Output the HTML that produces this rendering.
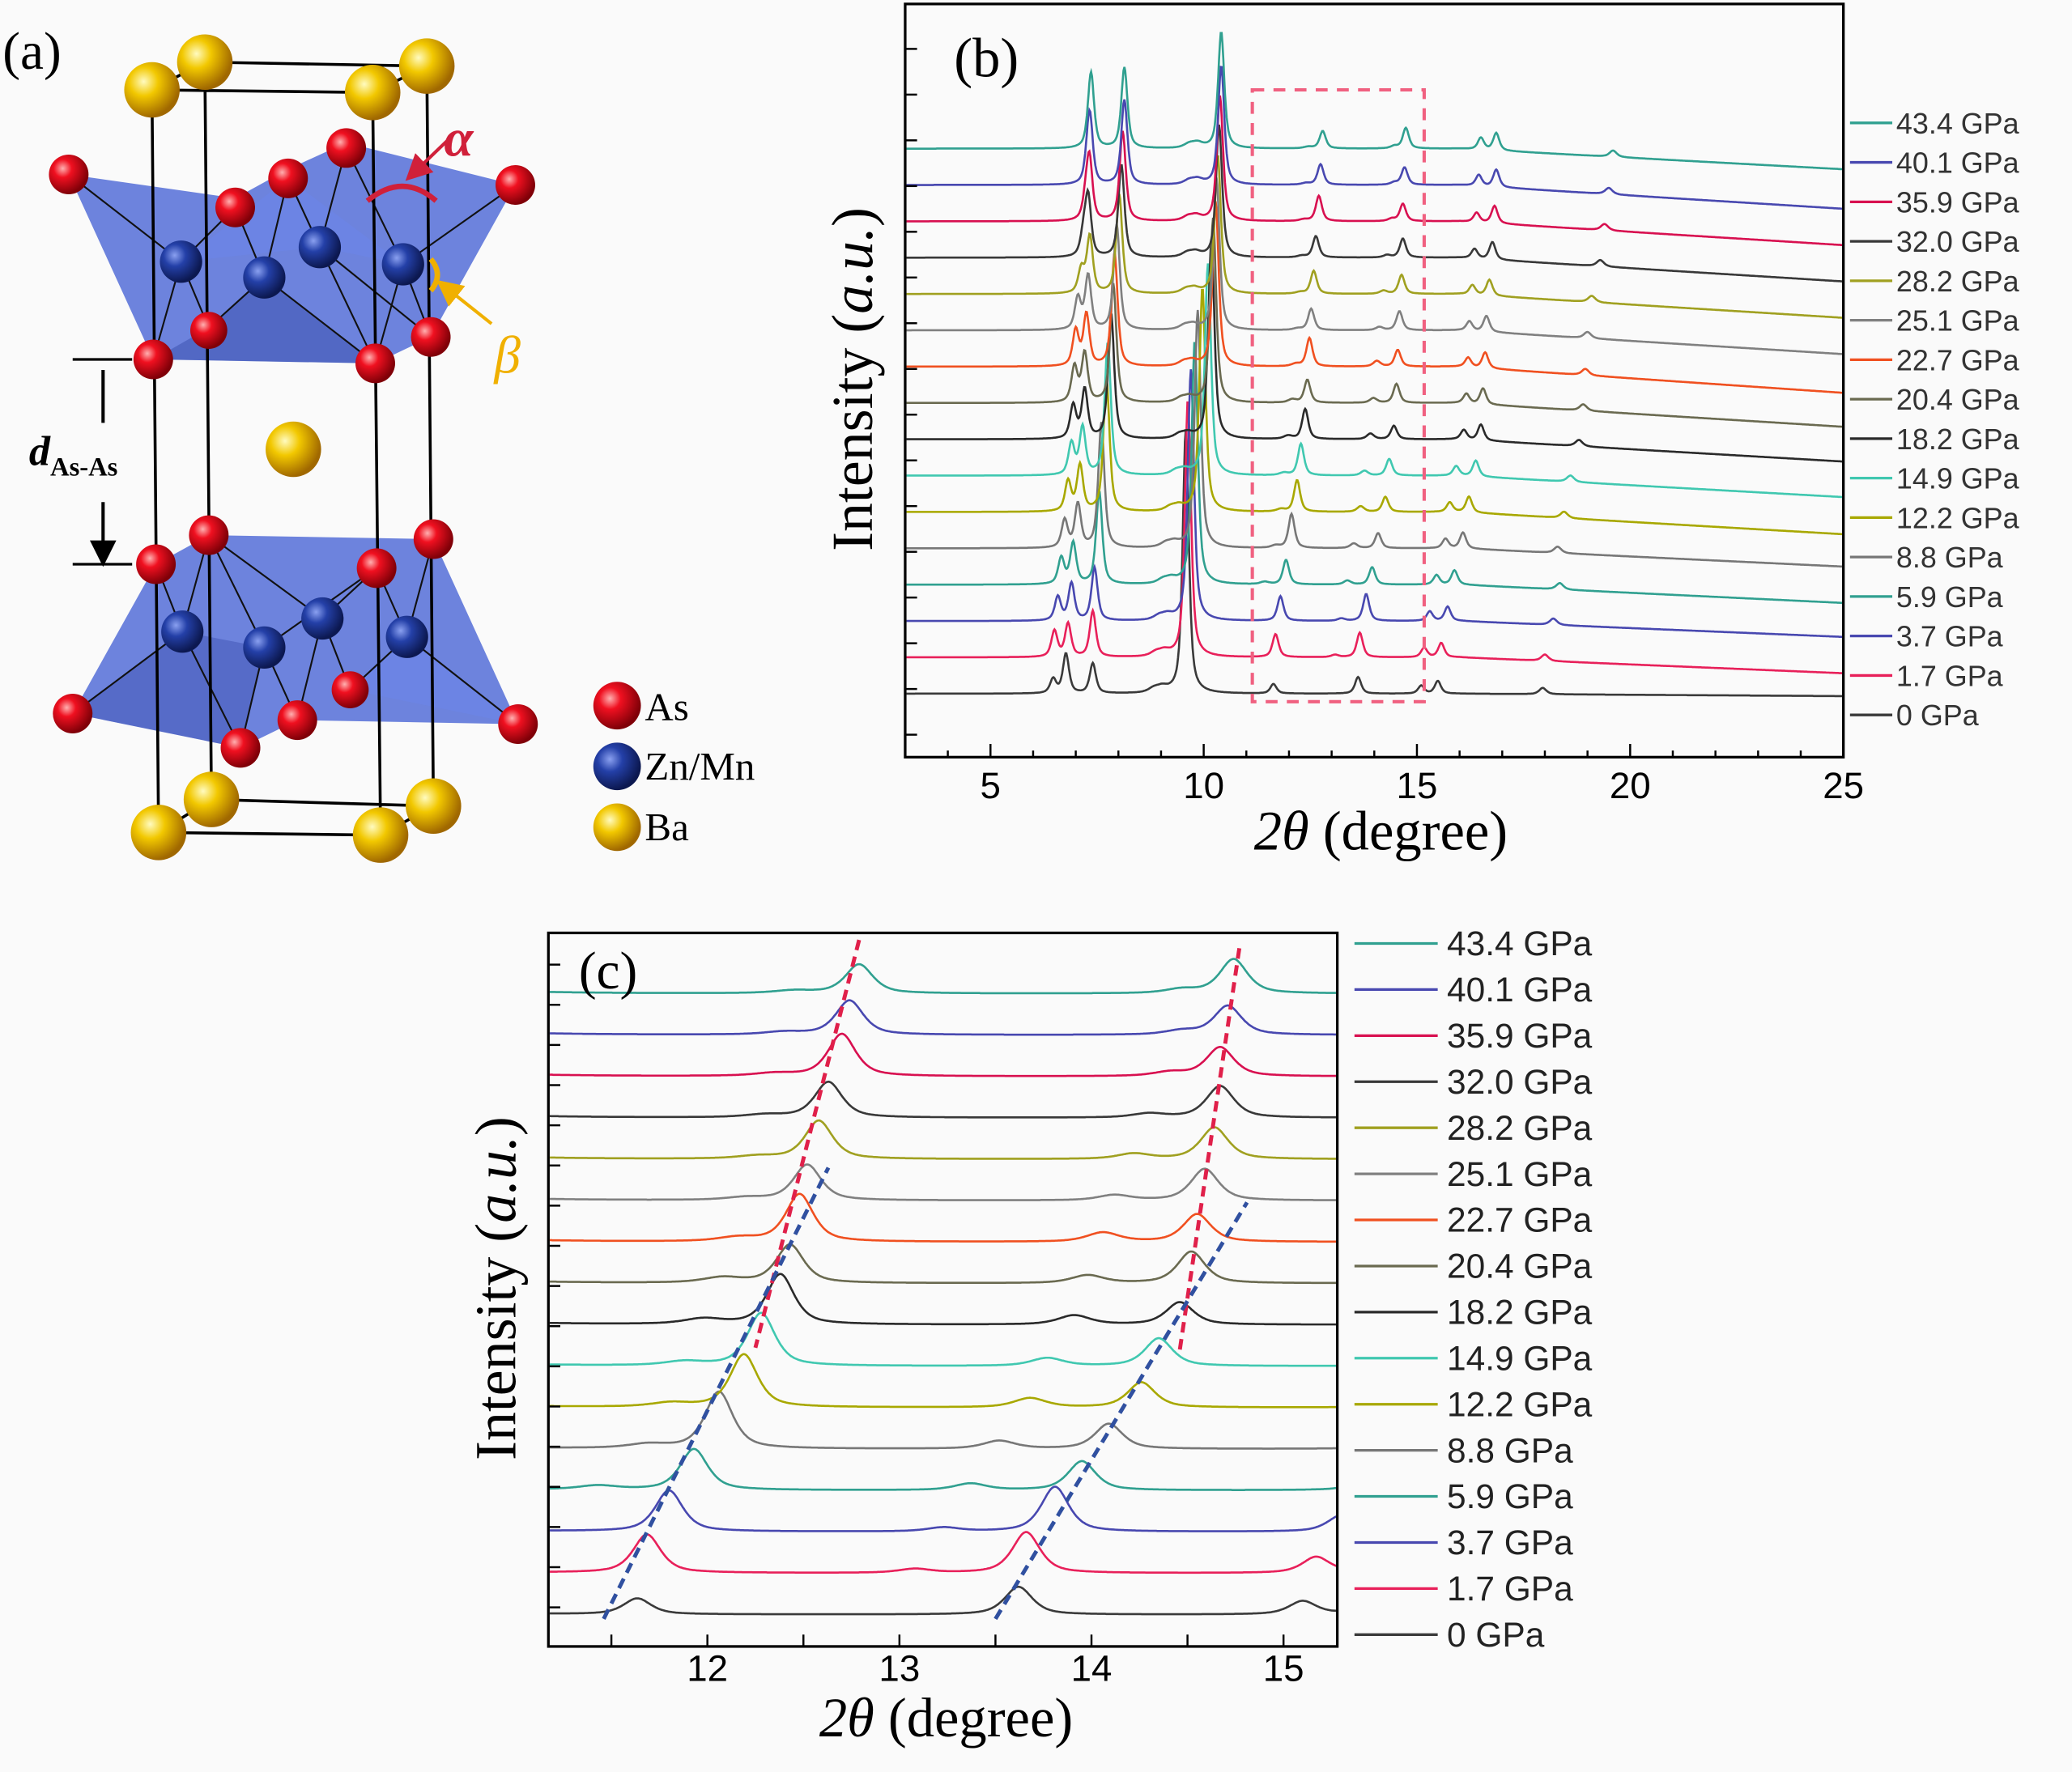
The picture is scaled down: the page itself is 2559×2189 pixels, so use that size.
<!DOCTYPE html>
<html><head><meta charset="utf-8"><style>
html,body{margin:0;padding:0;background:#fafafa;}
svg{display:block;}
text{font-family:"Liberation Sans",sans-serif;}
.serif{font-family:"Liberation Serif",serif;}
</style></head><body>
<svg id="fig" width="2559" height="2189" viewBox="0 0 1568 1341" preserveAspectRatio="none" xmlns="http://www.w3.org/2000/svg">
<defs>
<radialGradient id="gRed" cx="35%" cy="35%" r="65%"><stop offset="0" stop-color="#ffb0b0"/><stop offset="0.35" stop-color="#f01020"/><stop offset="1" stop-color="#800008"/></radialGradient>
<radialGradient id="gBlue" cx="35%" cy="35%" r="65%"><stop offset="0" stop-color="#8aa0f0"/><stop offset="0.4" stop-color="#2440a8"/><stop offset="1" stop-color="#0c1850"/></radialGradient>
<radialGradient id="gYel" cx="35%" cy="35%" r="65%"><stop offset="0" stop-color="#fffbc0"/><stop offset="0.4" stop-color="#f2c800"/><stop offset="1" stop-color="#a06800"/></radialGradient>
<clipPath id="clipB"><rect x="686" y="4" width="708" height="568"/></clipPath>
<clipPath id="clipC"><rect x="416" y="707" width="595" height="538"/></clipPath>
<marker id="arr" markerWidth="8" markerHeight="8" refX="4" refY="4" orient="auto"><path d="M0,0 L8,4 L0,8 z" fill="#000"/></marker>
<marker id="arrR" markerWidth="8" markerHeight="8" refX="4" refY="4" orient="auto"><path d="M0,0 L8,4 L0,8 z" fill="#d0203a"/></marker>
<marker id="arrY" markerWidth="8" markerHeight="8" refX="4" refY="4" orient="auto"><path d="M0,0 L8,4 L0,8 z" fill="#f0b000"/></marker>
</defs>
<rect width="1568" height="1341" fill="#fafafa"/>

<g id="panelA">
<text class="serif" x="2" y="52" font-size="40">(a)</text>
<polygon points="52,132 178,150 218,128 262,108 390,140 326,255 284,275 116,272" fill="#3050d0" fill-opacity="0.7"/>
<polygon points="116,272 158,248 200,210 284,275" fill="#2a40a0" fill-opacity="0.4"/>
<polygon points="137,198 218,135 305,200 242,187" fill="#6a88f0" fill-opacity="0.35"/>
<polygon points="118,427 158,405 328,408 392,548 225,545 182,566 55,540" fill="#3050d0" fill-opacity="0.7"/>
<polygon points="55,540 138,478 200,490 182,566" fill="#2a40a0" fill-opacity="0.35"/>
<polygon points="265,522 308,482 392,548" fill="#6a88f0" fill-opacity="0.35"/>
<g stroke="#111" stroke-width="1.3" fill="none">
<path d="M137,198 L52,132 M137,198 L178,157 M137,198 L116,272 M137,198 L158,248 M200,210 L178,157 M200,210 L218,135 M200,210 L158,248 M200,210 L284,275 M242,187 L218,135 M242,187 L262,112 M242,187 L284,275 M242,187 L326,255 M305,200 L262,112 M305,200 L390,140 M305,200 L326,255 M305,200 L284,275"/>
<path d="M138,478 L118,427 M138,478 L55,540 M138,478 L182,566 M138,478 L158,405 M200,490 L158,405 M200,490 L182,566 M200,490 L225,545 M200,490 L285,430 M244,468 L285,430 M244,468 L225,545 M244,468 L265,522 M244,468 L158,405 M308,482 L328,408 M308,482 L392,548 M308,482 L265,522 M308,482 L285,430"/>
</g>
<g stroke="#000" stroke-width="2.2" fill="none">
<path d="M115,68 L282,70 L323,50 L155,47 Z M120,630 L288,632 L328,610 L160,605 Z M115,68 L120,630 M282,70 L288,632 M323,50 L328,610 M155,47 L160,605"/>
</g>
<g fill="url(#gBlue)">
<circle cx="137" cy="198" r="16"/><circle cx="200" cy="210" r="16"/><circle cx="242" cy="187" r="16"/><circle cx="305" cy="200" r="16"/>
<circle cx="138" cy="478" r="16"/><circle cx="200" cy="490" r="16"/><circle cx="244" cy="468" r="16"/><circle cx="308" cy="482" r="16"/>
</g>
<g fill="url(#gRed)">
<circle cx="52" cy="132" r="15"/><circle cx="178" cy="157" r="15"/><circle cx="218" cy="135" r="15"/><circle cx="262" cy="112" r="15"/><circle cx="390" cy="140" r="15"/>
<circle cx="158" cy="250" r="14"/><circle cx="116" cy="272" r="15"/><circle cx="284" cy="275" r="15"/><circle cx="326" cy="255" r="15"/>
<circle cx="118" cy="427" r="15"/><circle cx="158" cy="405" r="15"/><circle cx="285" cy="430" r="15"/><circle cx="328" cy="408" r="15"/>
<circle cx="55" cy="540" r="15"/><circle cx="182" cy="566" r="15"/><circle cx="225" cy="545" r="15"/><circle cx="265" cy="522" r="14"/><circle cx="392" cy="548" r="15"/>
</g>
<g fill="url(#gYel)">
<circle cx="115" cy="68" r="21"/><circle cx="155" cy="47" r="21"/><circle cx="282" cy="70" r="21"/><circle cx="323" cy="50" r="21"/>
<circle cx="222" cy="340" r="21"/>
<circle cx="120" cy="630" r="21"/><circle cx="160" cy="605" r="21"/><circle cx="288" cy="632" r="21"/><circle cx="328" cy="610" r="21"/>
</g>
<path d="M278,152 Q305,130 330,152" stroke="#d0203a" stroke-width="4" fill="none"/>
<path d="M340,105 L314,130" stroke="#d0203a" stroke-width="2.5" marker-end="url(#arrR)"/>
<text class="serif" x="336" y="118" font-size="40" font-style="italic" font-weight="bold" fill="#d0203a">α</text>
<path d="M326,196 Q336,208 326,220" stroke="#f0b000" stroke-width="4" fill="none"/>
<path d="M372,245 L338,218" stroke="#f0b000" stroke-width="2.5" marker-end="url(#arrY)"/>
<text class="serif" x="374" y="282" font-size="40" font-style="italic" fill="#f0b000">β</text>
<path d="M55,272 L100,272 M55,427 L100,427" stroke="#000" stroke-width="2"/>
<path d="M78,320 L78,280 M78,380 L78,419" stroke="#000" stroke-width="2.5" marker-end="url(#arr)"/>
<text class="serif" x="22" y="352" font-size="32" font-style="italic" font-weight="bold">d<tspan font-size="20" font-style="normal" dy="8">As-As</tspan></text>
<g>
<circle cx="467" cy="534" r="18" fill="url(#gRed)"/><text class="serif" x="488" y="545" font-size="30">As</text>
<circle cx="467" cy="580" r="18" fill="url(#gBlue)"/><text class="serif" x="488" y="590" font-size="30">Zn/Mn</text>
<circle cx="467" cy="626" r="18" fill="url(#gYel)"/><text class="serif" x="488" y="636" font-size="30">Ba</text>
</g>
</g>

<g id="panelB"></g>
<g id="panelC"></g>
</svg>
<script>
const pressures=["0","1.7","3.7","5.9","8.8","12.2","14.9","18.2","20.4","22.7","25.1","28.2","32.0","35.9","40.1","43.4"];
const colors=["#3a3a3a","#e8205a","#4848b0","#30a090","#777777","#a8a800","#40c8b0","#2a2a2a","#6a6a50","#f05020","#808080","#a0a020","#383838","#d81050","#4848b0","#30a090"];
const posF1=[6.47,6.5,6.58,6.66,6.74,6.82,6.9,6.94,6.97,7.0,7.05,7.13,7.18,7.23,7.28,7.33];
const posF2=[6.77,6.82,6.9,6.94,7.05,7.1,7.16,7.21,7.21,7.25,7.29,7.33,7.29,7.32,7.33,7.36];
const posF3=[7.4,7.4,7.44,7.55,7.6,7.72,7.75,7.83,7.88,7.91,7.96,8.02,8.07,8.1,8.14,8.14];
const posA=[9.58,9.63,9.7,9.79,9.86,9.97,10.1,10.18,10.22,10.28,10.3,10.33,10.36,10.38,10.41,10.41];
const pos0=[11.2,11.25,11.32,11.43,11.69,11.81,11.88,11.98,12.08,12.16,12.2,12.26,12.3,12.35,12.4,12.45];
const pos1=[11.635,11.685,11.8,11.93,12.06,12.19,12.28,12.38,12.43,12.48,12.52,12.58,12.63,12.7,12.74,12.79];
const pos3=[13.0,13.08,13.23,13.37,13.52,13.68,13.77,13.91,13.98,14.06,14.12,14.22,14.3,14.41,14.47,14.47];
const pos2=[13.62,13.66,13.81,13.95,14.09,14.26,14.35,14.46,14.52,14.55,14.59,14.64,14.67,14.67,14.71,14.74];
const pos4=[15.1,15.17,15.3,15.46,15.67,15.77,15.92,16.1,16.16,16.2,16.23,16.3,16.35,16.4,16.45,16.5];
const pos5=[15.49,15.57,15.72,15.88,16.08,16.22,16.38,16.5,16.55,16.6,16.63,16.7,16.77,16.82,16.86,16.86];
const pos6=[17.95,18.0,18.2,18.35,18.3,18.45,18.6,18.8,18.9,18.95,19.0,19.1,19.3,19.4,19.5,19.6];
const hF1=[18,33,30,33,35,38,40,42,45,45,40,30,25,20,15,10];
const hF2=[50,42,47,52,55,58,60,62,62,65,68,72,75,78,82,87];
const hF3=[38,58,67,117,158,167,167,158,150,142,133,125,117,113,107,102];
const hA=[333,325,317,308,300,283,267,250,233,208,192,175,167,158,150,147];
const h0=[0,0,0,3,3,3,3,4,4,3,2,2,2,2,2,2];
const h1=[12,29,31,31,43,40,40,38,29,36,27,29,27,32,26,22];
const h3=[0,3,3,5,6,7,6,7,6,7,4,4,3,3,3,3];
const h2=[21,31,34,22,19,19,21,17,24,21,24,24,24,22,22,26];
const h4=[10,12,12,12,12,12,12,12,12,12,12,12,12,12,14,15];
const h5=[16,18,18,18,20,20,20,20,20,20,20,20,22,22,22,22];
const h6=[8,8,8,8,8,8,8,8,8,8,8,8,8,8,8,8];
const bgDrop=[3,20,20,23,23,28,27,28,30,33,30,30,30,30,30,26];
const xTicksB=[5,10,15,20,25];
const xTicksC=[12,13,14,15];

const NS="http://www.w3.org/2000/svg";
function mk(tag,attrs,parent){const e=document.createElementNS(NS,tag);for(const k in attrs)e.setAttribute(k,attrs[k]);parent.appendChild(e);return e;}
function pv(x,p,h,g){if(!h)return 0;const d=(x-p)/g;return h*(0.65/(1+d*d)+0.35*Math.exp(-0.693*d*d));}
function intensity(i,x){
 let v=0;const g=0.085;
 v+=pv(x,posF1[i],hF1[i],g)+pv(x,posF2[i],hF2[i],g)+pv(x,posF3[i],hF3[i],g)+pv(x,posA[i],hA[i],g);
 v+=pv(x,posA[i]-0.55,6,0.15)+pv(x,posA[i]-0.75,5,0.15);
 v+=pv(x,pos0[i],h0[i],0.12)+pv(x,pos1[i],h1[i],g)+pv(x,pos3[i],h3[i],0.1)+pv(x,pos2[i],h2[i],g);
 v+=pv(x,pos4[i],h4[i],g)+pv(x,pos5[i],h5[i],g)+pv(x,pos6[i],h6[i],0.1);
 return v;}
const B={x0:685,x1:1395,y0:3,y1:573,dmin:3,dmax:25};
function xb(d){return B.x0+(d-B.dmin)/(B.dmax-B.dmin)*(B.x1-B.x0);}
function yb(i,v){return 525-i*27.5-v*0.6;}
const gB=document.getElementById('panelB');
const tracesB=mk('g',{'clip-path':'url(#clipB)'},gB);
for(let i=0;i<pressures.length;i++){
 let d='';
 for(let x=B.dmin;x<=B.dmax+0.001;x+=0.02){
  const bg=-bgDrop[i]*Math.max(0,(x-16)/9);
  const v=intensity(i,x)+bg;
  d+=(d?'L':'M')+xb(x).toFixed(1)+','+yb(i,v).toFixed(1);
 }
 const p=mk('path',{d:d,fill:'none',stroke:colors[i],'stroke-width':1.6},tracesB);
 
 
}
const box=mk('rect',{x:B.x0,y:B.y0,width:B.x1-B.x0,height:B.y1-B.y0,fill:'none',stroke:'#000','stroke-width':2},gB);


const zoomBox=mk('rect',{x:xb(11.14),y:68,width:xb(15.17)-xb(11.14),height:463,fill:'none',stroke:'#f06080','stroke-width':2.5,'stroke-dasharray':'9,7'},gB);


for(let d=B.dmin;d<=B.dmax;d+=1){
 const major=(d%5===0);
 mk('line',{x1:xb(d),x2:xb(d),y1:B.y1,y2:B.y1-(major?10:5),stroke:'#000','stroke-width':1.5},gB);
}
xTicksB.forEach(t=>{
 const tx=mk('text',{x:xb(t),y:604,'text-anchor':'middle','font-size':28},gB);
 tx.textContent=t;
 
 
});
for(let y=37;y<572;y+=34.6){mk('line',{x1:B.x0,x2:B.x0+9,y1:y,y2:y,stroke:'#000','stroke-width':1.5},gB);}
let t=mk('text',{x:722,y:58,'font-size':42,class:'serif'},gB);t.textContent='(b)';


t=mk('text',{x:0,y:0,'font-size':44,class:'serif','text-anchor':'middle',transform:'translate(660,287) rotate(-90)'},gB);
t.innerHTML='Intensity (<tspan font-style="italic">a.u.</tspan>)';


t=mk('text',{x:1045,y:643,'font-size':42,class:'serif','text-anchor':'middle'},gB);
t.innerHTML='<tspan font-style="italic">2θ</tspan> (degree)';


for(let k=0;k<pressures.length;k++){
 const i=pressures.length-1-k;const y=93+k*29.87;
 const lg=mk('g',{},gB);
 
 
 mk('line',{x1:1400,x2:1432,y1:y,y2:y,stroke:colors[i],'stroke-width':2},lg);
 const tt=mk('text',{x:1435,y:y+8,'font-size':22,fill:'#333'},lg);tt.textContent=pressures[i]+' GPa';
}
const C={x0:415,x1:1012,y0:706,y1:1246,dmin:11.172,dmax:15.28};
function xc(d){return C.x0+(d-C.dmin)/(C.dmax-C.dmin)*(C.x1-C.x0);}
function yc(i,v){return 1222-i*31.33-v;}
const gC=document.getElementById('panelC');
const tracesC=mk('g',{'clip-path':'url(#clipC)'},gC);
for(let i=0;i<pressures.length;i++){
 let d='';
 for(let x=C.dmin;x<=C.dmax+0.001;x+=0.005){
  const v=intensity(i,x);
  d+=(d?'L':'M')+xc(x).toFixed(1)+','+yc(i,v).toFixed(1);
 }
 const p=mk('path',{d:d,fill:'none',stroke:colors[i],'stroke-width':1.6},tracesC);
 
 
}
const guides=[[12.79,16.3,12.25,6.45,'#e0204a'],[11.46,-0.1,12.63,10.8,'#3050a0'],[14.77,16.1,14.46,6.4,'#e0204a'],[13.5,-0.1,14.81,9.96,'#3050a0']];
guides.forEach((g,k)=>{
 const l=mk('line',{x1:xc(g[0]),y1:yc(g[1],0),x2:xc(g[2]),y2:yc(g[3],0),stroke:g[4],'stroke-width':3,'stroke-dasharray':'8,5'},tracesC);
 
 
});
const boxC=mk('rect',{x:C.x0,y:C.y0,width:C.x1-C.x0,height:C.y1-C.y0,fill:'none',stroke:'#000','stroke-width':2},gC);


for(let d=11.5;d<=15.01;d+=0.5){mk('line',{x1:xc(d),x2:xc(d),y1:C.y1,y2:C.y1-9,stroke:'#000','stroke-width':1.5},gC);}
xTicksC.forEach(v=>{
 const tx=mk('text',{x:xc(v),y:1272,'text-anchor':'middle','font-size':28},gC);
 tx.textContent=v;
 
 
});
for(let y=730;y<1240;y+=30.4){mk('line',{x1:C.x0,x2:C.x0+9,y1:y,y2:y,stroke:'#000','stroke-width':1.5},gC);}
t=mk('text',{x:438,y:748,'font-size':40,class:'serif'},gC);t.textContent='(c)';


t=mk('text',{x:0,y:0,'font-size':44,class:'serif','text-anchor':'middle',transform:'translate(390,975) rotate(-90)'},gC);
t.innerHTML='Intensity (<tspan font-style="italic">a.u.</tspan>)';


t=mk('text',{x:716,y:1314,'font-size':42,class:'serif','text-anchor':'middle'},gC);
t.innerHTML='<tspan font-style="italic">2θ</tspan> (degree)';


for(let k=0;k<pressures.length;k++){
 const i=pressures.length-1-k;const y=714+k*34.87;
 const lg=mk('g',{},gC);
 
 
 mk('line',{x1:1025,x2:1088,y1:y,y2:y,stroke:colors[i],'stroke-width':2},lg);
 const tt=mk('text',{x:1095,y:y+9,'font-size':26,fill:'#222'},lg);tt.textContent=pressures[i]+' GPa';
}
</script>
</body></html>
